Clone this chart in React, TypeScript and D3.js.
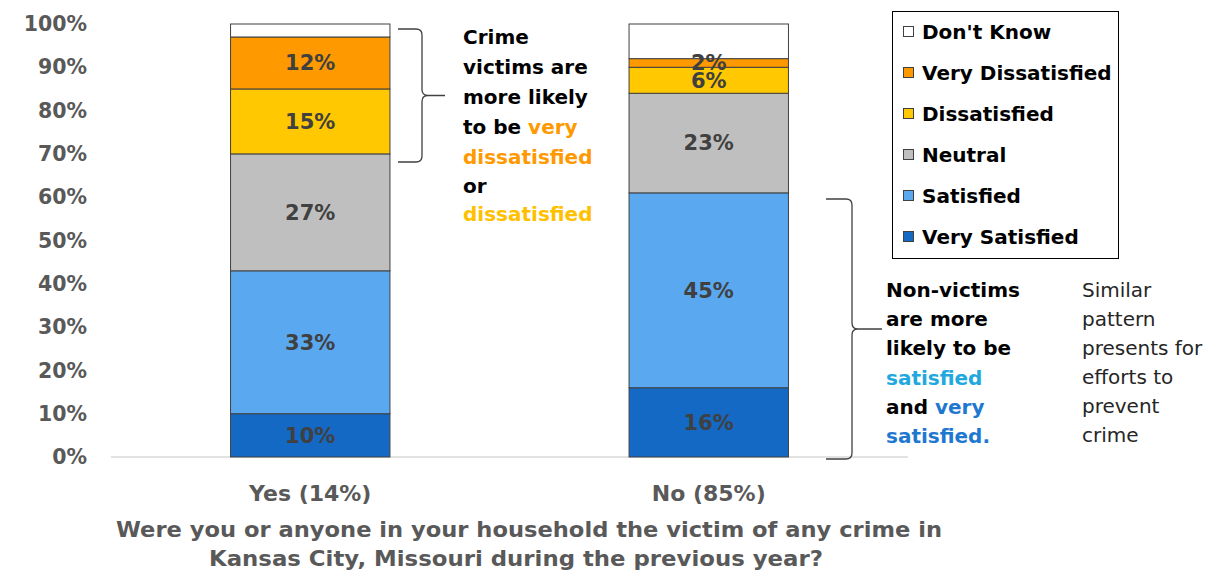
import React from "react";
import * as d3 from "d3";

const categories = ["Yes (14%)", "No (85%)"];
const seriesKeys = ["Very Satisfied", "Satisfied", "Neutral", "Dissatisfied", "Very Dissatisfied", "Don't Know"];
const verySatisfied = [10, 16];
const satisfied = [33, 45];
const neutral = [27, 23];
const dissatisfied = [15, 6];
const veryDissatisfied = [12, 2];
const dontKnow = [3, 8];
const yTicks = [0, 10, 20, 30, 40, 50, 60, 70, 80, 90, 100];
const colors = ["#1469C4", "#5AA8F0", "#BFBFBF", "#FFC800", "#FF9900", "#FFFFFF"];
const legendOrder = ["Don't Know", "Very Dissatisfied", "Dissatisfied", "Neutral", "Satisfied", "Very Satisfied"];

const FONT = "'DejaVu Sans', sans-serif";

export default function App() {
  const rows = categories.map((c, i) => ({
    cat: c,
    "Very Satisfied": verySatisfied[i],
    Satisfied: satisfied[i],
    Neutral: neutral[i],
    Dissatisfied: dissatisfied[i],
    "Very Dissatisfied": veryDissatisfied[i],
    "Don't Know": dontKnow[i],
  }));
  const stack = d3.stack<any>().keys(seriesKeys)(rows);
  const x = d3.scaleBand().domain(categories).range([111, 908]).paddingInner(0.6).paddingOuter(0.3);
  const y = d3.scaleLinear().domain([0, 100]).range([457, 24]);
  const color = d3.scaleOrdinal<string, string>().domain(seriesKeys).range(colors);

  const bracket = (x0: number, xm: number, xt: number, y0: number, y1: number) => {
    const ym = (y0 + y1) / 2;
    const r = 6;
    return `M${x0},${y0} L${xm - r},${y0} Q${xm},${y0} ${xm},${y0 + r} L${xm},${ym - r} Q${xm},${ym} ${xm + r},${ym} L${xt},${ym} M${xm + r},${ym} Q${xm},${ym} ${xm},${ym + r} L${xm},${y1 - r} Q${xm},${y1} ${xm - r},${y1} L${x0},${y1}`;
  };

  return (
    <svg width={1227} height={575} style={{ position: "absolute", left: 0, top: 0, background: "#fff" }} fontFamily={FONT}>
      {/* y ticks */}
      {yTicks.map((t) => (
        <text key={t} x={87} y={y(t)} dy="0.35em" textAnchor="end" fontSize={20.5} fontWeight="bold" fill="#595959">
          {t}%
        </text>
      ))}
      {/* baseline */}
      <line x1={111} x2={908} y1={y(0)} y2={y(0)} stroke="#D9D9D9" strokeWidth={1.5} />
      {/* bars */}
      {stack.map((s) =>
        s.map((d, i) => (
          <rect
            key={s.key + i}
            x={x(categories[i])}
            width={x.bandwidth()}
            y={y(d[1])}
            height={y(d[0]) - y(d[1])}
            fill={color(s.key)}
            stroke="#404040"
            strokeWidth={1}
          />
        ))
      )}
      {/* labels */}
      {stack.map((s) =>
        s.key === "Don't Know"
          ? null
          : s.map((d, i) => (
              <text
                key={"l" + s.key + i}
                x={(x(categories[i]) as number) + x.bandwidth() / 2}
                y={y((d[0] + d[1]) / 2)}
                dy="0.35em"
                textAnchor="middle"
                fontSize={21}
                fontWeight="bold"
                fill="#404040"
              >
                {d[1] - d[0]}%
              </text>
            ))
      )}
      {/* x labels */}
      {categories.map((c) => (
        <text key={c} x={(x(c) as number) + x.bandwidth() / 2} y={493} dy="0.35em" textAnchor="middle" fontSize={22} fontWeight="bold" fill="#595959">
          {c}
        </text>
      ))}
      <text x={529} y={529} dy="0.35em" textAnchor="middle" fontSize={22} fontWeight="bold" fill="#595959" textLength={826} lengthAdjust="spacingAndGlyphs">
        Were you or anyone in your household the victim of any crime in
      </text>
      <text x={516} y={558} dy="0.35em" textAnchor="middle" fontSize={22} fontWeight="bold" fill="#595959" textLength={614} lengthAdjust="spacingAndGlyphs">
        Kansas City, Missouri during the previous year?
      </text>
      {/* legend */}
      <rect x={892.5} y={11.5} width={226} height={247} fill="#fff" stroke="#000" strokeWidth={1} />
      {legendOrder.map((k, i) => {
        const cy = 32 + i * 41;
        return (
          <g key={k}>
            <rect x={903.5} y={cy - 5.5} width={10} height={10} fill={color(k)} stroke="#404040" strokeWidth={1} />
            <text x={922} y={cy} dy="0.35em" fontSize={20} fontWeight="bold" fill="#000">
              {k}
            </text>
          </g>
        );
      })}
      {/* annotation 1 */}
      <path d={bracket(398, 422, 445, 29, 162)} fill="none" stroke="#404040" strokeWidth={1.3} />
      <g fontSize={20} fontWeight="bold">
        <text x={463} y={37} dy="0.35em" fill="#000">Crime</text>
        <text x={463} y={67} dy="0.35em" fill="#000">victims are</text>
        <text x={463} y={97} dy="0.35em" fill="#000">more likely</text>
        <text x={463} y={127} dy="0.35em" fill="#000">
          to be <tspan fill="#FF9900">very</tspan>
        </text>
        <text x={463} y={157} dy="0.35em" fill="#FF9900">dissatisfied</text>
        <text x={463} y={186} dy="0.35em" fill="#000">or</text>
        <text x={463} y={214} dy="0.35em" fill="#FFC000">dissatisfied</text>
      </g>
      {/* annotation 2 */}
      <path d={bracket(826, 852, 882, 199, 459)} fill="none" stroke="#404040" strokeWidth={1.3} />
      <g fontSize={20} fontWeight="bold">
        <text x={886} y={290} dy="0.35em" fill="#000">Non-victims</text>
        <text x={886} y={319} dy="0.35em" fill="#000">are more</text>
        <text x={886} y={348} dy="0.35em" fill="#000">likely to be</text>
        <text x={886} y={378} dy="0.35em" fill="#22A8DE">satisfied</text>
        <text x={886} y={407} dy="0.35em" fill="#000">
          and <tspan fill="#1F78D0">very</tspan>
        </text>
        <text x={886} y={436} dy="0.35em" fill="#1F78D0">satisfied.</text>
      </g>
      <g fontSize={20} fill="#262626">
        <text x={1082} y={290} dy="0.35em">Similar</text>
        <text x={1082} y={319} dy="0.35em">pattern</text>
        <text x={1082} y={348} dy="0.35em">presents for</text>
        <text x={1082} y={377} dy="0.35em">efforts to</text>
        <text x={1082} y={406} dy="0.35em">prevent</text>
        <text x={1082} y={435} dy="0.35em">crime</text>
      </g>
    </svg>
  );
}
